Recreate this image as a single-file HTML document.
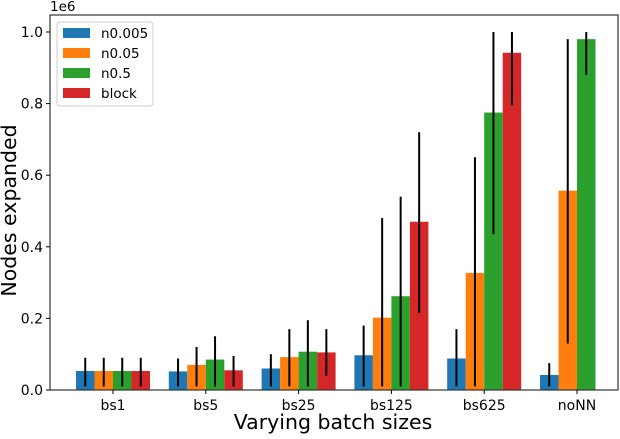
<!DOCTYPE html>
<html><head><meta charset="utf-8"><style>
body{margin:0;background:#fff}
text{font-family:"DejaVu Sans","Liberation Sans",sans-serif;fill:#000}
</style></head><body>
<svg id="chart" width="620" height="434" xmlns="http://www.w3.org/2000/svg">
<g id="bars"></g>
<g id="axes"></g>
</svg>
<script>
const categories=["bs1","bs5","bs25","bs125","bs625","noNN"];
const seriesNames=["n0.005","n0.05","n0.5","block"];
const n0005=[0.053,0.052,0.060,0.097,0.088,0.042];
const n005=[0.053,0.070,0.092,0.202,0.327,0.557];
const n05=[0.053,0.085,0.107,0.262,0.775,0.980];
const block=[0.053,0.055,0.105,0.470,0.942,null];
const errLo=[[0.01,0.01,0.01,0.01,0.01,0.01],[0.01,0.01,0.01,0.01,0.01,0.13],[0.01,0.01,0.01,0.01,0.435,0.88],[0.01,0.01,0.04,0.215,0.795,null]];
const errHi=[[0.09,0.088,0.10,0.18,0.17,0.075],[0.09,0.12,0.17,0.48,0.65,0.98],[0.09,0.15,0.195,0.54,1.0,1.0],[0.09,0.095,0.17,0.72,1.0,null]];
const yTicks=[0,0.2,0.4,0.6,0.8,1.0];
const colors=["#1f77b4","#ff7f0e","#2ca02c","#d62728"];
const series=[n0005,n005,n05,block];
const NS="http://www.w3.org/2000/svg";
const L=50,R=618,T=15,B=390;
function y(v){return 390-v*358;}
function xc(i){return 113+i*92.8;}
const bw=18.5;
const bars=document.getElementById('bars'),axes=document.getElementById('axes');
function mk(tag,attrs,parent){const e=document.createElementNS(NS,tag);for(const k in attrs)e.setAttribute(k,attrs[k]);parent.appendChild(e);return e;}
series.forEach((s,si)=>{s.forEach((v,i)=>{if(v===null)return;
 const x=xc(i)+(si-2)*bw;
 const r=mk('rect',{x:x,y:y(v),width:bw,height:y(0)-y(v),fill:colors[si]},bars);
 
 
 if(errLo[si][i]!==null){const l=mk('line',{x1:x+bw/2,x2:x+bw/2,y1:y(errLo[si][i]),y2:y(errHi[si][i]),stroke:'#000','stroke-width':2},bars);
 
 }
});});
mk('rect',{x:L,y:T,width:R-L,height:B-T,fill:'none',stroke:'#333','stroke-width':1.2},axes);
yTicks.forEach(t=>{mk('line',{x1:L-4,x2:L,y1:y(t),y2:y(t),stroke:'#000'},axes);
 const tx=mk('text',{x:L-7,y:y(t)+5,'text-anchor':'end','font-size':14},axes);tx.textContent=t.toFixed(1);
 
 });
categories.forEach((c,i)=>{mk('line',{x1:xc(i),x2:xc(i),y1:B,y2:B+4,stroke:'#000'},axes);
 const tx=mk('text',{x:xc(i),y:B+20,'text-anchor':'middle','font-size':14},axes);tx.textContent=c;
 
 });
let t=mk('text',{x:L,y:11,'font-size':13.5},axes);t.textContent='1e6';


t=mk('text',{x:(L+R)/2-1,y:429,'text-anchor':'middle','font-size':20.5},axes);t.textContent='Varying batch sizes';


t=mk('text',{x:0,y:0,'text-anchor':'middle','font-size':20.5,transform:'translate(16,'+((T+B)/2+8)+') rotate(-90)'},axes);t.textContent='Nodes expanded';


const lg=mk('g',{},axes);


mk('rect',{x:57,y:22,width:96,height:84,rx:3,fill:'#fff',stroke:'#ccc','fill-opacity':0.8},lg);
seriesNames.forEach((n,i)=>{const yy=32+i*20;
 mk('rect',{x:63,y:yy-4,width:27,height:10,fill:colors[i]},lg);
 const tx=mk('text',{x:101,y:yy+6,'font-size':13.5},lg);tx.textContent=n;
 
 });
</script>
</body></html>
